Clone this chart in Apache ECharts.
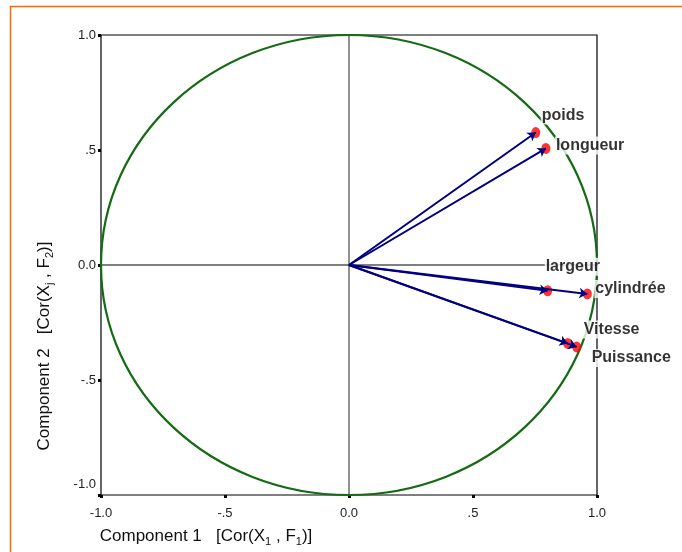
<!DOCTYPE html>
<html>
<head>
<meta charset="utf-8">
<script src="https://cdn.jsdelivr.net/npm/echarts@6/dist/echarts.min.js"></script>
<style>
html,body{margin:0;padding:0;background:#fff;}
#chart{width:682px;height:552px;}
</style>
</head>
<body>
<div id="chart"></div>
<script>
// ---- data ----
const variables = ['poids', 'longueur', 'largeur', 'cylindrée', 'Vitesse', 'Puissance'];
const component1 = [0.753, 0.794, 0.801, 0.961, 0.882, 0.918];
const component2 = [0.576, 0.507, -0.112, -0.126, -0.341, -0.356];
const tickValues = [-1, -0.5, 0, 0.5, 1];
const tickLabels = ['-1.0', '-.5', '0.0', '.5', '1.0'];

// ---- layout / style (not data) ----
const labelOffsets = {
  'poids': [5, -17],
  'longueur': [9, -3],
  'largeur': [-3, -24],
  'cylindrée': [7, -5],
  'Vitesse': [15, -14],
  'Puissance': [14, 11]
};
const FONT = "'Liberation Sans', Arial, Helvetica, sans-serif";

function tickText(v) {
  const i = tickValues.indexOf(Math.round(v * 2) / 2);
  return i >= 0 ? tickLabels[i] : '';
}

const points = variables.map((n, i) => ({
  name: n,
  value: [component1[i], component2[i]],
  label: { offset: labelOffsets[n] }
}));
const arrows = variables.map((n, i) => ({
  coords: [[0, 0], [component1[i], component2[i]]]
}));

const subStyle = { fontSize: 11, fontFamily: FONT, color: '#111', padding: [10, 0, 0, 0] };

const chart = echarts.init(document.getElementById('chart'), null, { renderer: 'canvas' });
const option = {
  backgroundColor: '#ffffff',
  animation: false,
  textStyle: { fontFamily: FONT },
  graphic: [{
    type: 'rect',
    shape: { x: 10.5, y: 6.5, width: 700, height: 600 },
    style: { fill: 'none', stroke: '#ff6a00', lineWidth: 1.5 },
    silent: true
  }],
  grid: {
    left: 101, right: 85, top: 35, bottom: 57,
    show: true, borderColor: '#000', borderWidth: 1.2, backgroundColor: 'transparent'
  },
  xAxis: {
    type: 'value', min: -1, max: 1, interval: 0.5,
    axisLine: { show: false, onZero: false },
    axisTick: { show: true, length: 3, lineStyle: { color: '#000', width: 3 } },
    splitLine: { show: false },
    axisLabel: { color: '#222', fontSize: 13, fontFamily: FONT, margin: 12, formatter: tickText },
    name: 'Component 1   [Cor(X{sub|1} , F{sub|1})]',
    nameLocation: 'middle',
    nameGap: 31,
    nameTextStyle: {
      color: '#111', fontSize: 17, fontFamily: FONT, padding: [0, 286, 0, 0],
      rich: { sub: subStyle }
    }
  },
  yAxis: {
    type: 'value', min: -1, max: 1, interval: 0.5,
    axisLine: { show: false, onZero: false },
    axisTick: { show: true, length: 3, lineStyle: { color: '#000', width: 3 } },
    splitLine: { show: false },
    axisLabel: {
      color: '#222', fontSize: 13, fontFamily: FONT, margin: 5,
      formatter: v => v === -1 ? '{up|' + tickText(v) + '}' : tickText(v),
      rich: { up: { fontSize: 13, fontFamily: FONT, color: '#222', padding: [0, 0, 22, 0] } }
    },
    name: 'Component 2   [Cor(X{sub|j} , F{sub|2})]',
    nameLocation: 'middle',
    nameRotate: 90,
    nameGap: 46,
    nameTextStyle: {
      color: '#111', fontSize: 17, fontFamily: FONT, padding: [0, 162, 0, 0],
      rich: { sub: subStyle }
    }
  },
  series: [
    {
      type: 'line', data: [[-1, 0], [1, 0]], symbol: 'none', silent: true,
      lineStyle: { color: '#000', width: 1 }, z: 1
    },
    {
      type: 'line', data: [[0, -1], [0, 1]], symbol: 'none', silent: true,
      lineStyle: { color: '#222', width: 1 }, z: 1
    },
    {
      type: 'custom', silent: true, z: 2,
      data: [[0, 0]],
      renderItem: function (params, api) {
        const c = api.coord([0, 0]);
        const s = api.size([1, 1]);
        return {
          type: 'ellipse',
          shape: { cx: c[0], cy: c[1], rx: s[0], ry: s[1] },
          style: { fill: 'none', stroke: '#136b13', lineWidth: 2.2 }
        };
      }
    },
    {
      type: 'scatter', data: points, z: 3,
      symbol: 'circle', symbolSize: [9, 11],
      itemStyle: { color: '#ff0000' },
      label: {
        show: true, position: 'inside', align: 'left', verticalAlign: 'middle',
        formatter: '{b}', color: '#000', fontSize: 16, fontWeight: 'bold', fontFamily: FONT,
        backgroundColor: '#fff', padding: [1, 1]
      }
    },
    {
      type: 'lines', coordinateSystem: 'cartesian2d', z: 4,
      data: arrows,
      symbol: ['none', 'arrow'], symbolSize: 8,
      lineStyle: { color: '#000080', width: 2, opacity: 1, curveness: 0 }
    }
  ]
};
chart.setOption(option);
</script>
</body>
</html>
